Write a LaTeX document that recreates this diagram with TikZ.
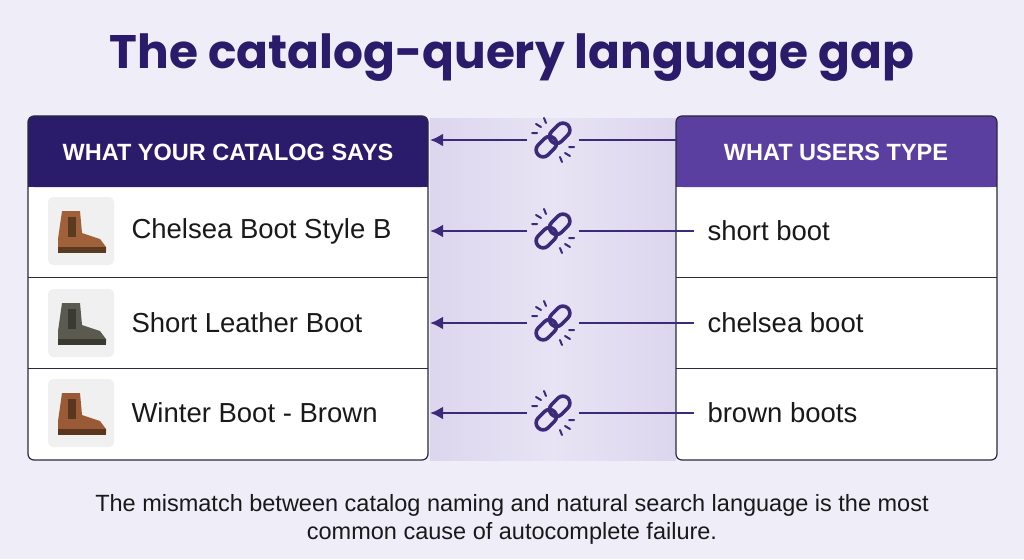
\documentclass[tikz,border=0pt]{standalone}
\usepackage{fontspec}
\setmainfont{Liberation Sans}
\newfontfamily\titlefont{Poppins}
\usetikzlibrary{arrows.meta,calc}
\definecolor{ink}{HTML}{3B2A7A}
\definecolor{bg}{HTML}{EFEDF8}
\definecolor{hdrL}{HTML}{2B1B6B}
\definecolor{hdrR}{HTML}{5B3FA0}
\definecolor{band}{HTML}{DCD6EE}
\definecolor{edge}{HTML}{2A2A3A}
\definecolor{bootA}{HTML}{A0603A}
\definecolor{bootAd}{HTML}{5A3A20}
\definecolor{bootB}{HTML}{5A5A50}
\definecolor{bootBd}{HTML}{3A3A30}
\definecolor{bootC}{HTML}{9A5A35}
\definecolor{bootCd}{HTML}{5A3520}
\begin{document}
\begin{tikzpicture}[x=1pt,y=-1pt,
  hdrtxt/.style={text=white,font=\bfseries\fontsize{23.5}{26}\selectfont},
  rowtxt/.style={anchor=west,font=\fontsize{27.5}{30}\selectfont,text=black!90},
  arr/.style={draw=ink,line width=2.6pt,-{Latex[length=13pt,width=13pt]}},
  plain/.style={draw=ink,line width=2.6pt},
  link/.pic={
    \begin{scope}[rotate=45]
    \draw[ink,line width=3.6pt,rounded corners=7pt] (-21,-7) rectangle (2,7);
    \draw[ink,line width=3.6pt,rounded corners=7pt] (-2,-7) rectangle (21,7);
    \end{scope}
    \draw[ink,line width=2pt,line cap=round] (-9,-22)--(-7,-17) (-17,-16)--(-12,-13) (-21,-7)--(-16,-7)
      (9,22)--(7,17) (17,16)--(12,13) (21,7)--(16,7);
  }]
\useasboundingbox (0,0) rectangle (1024,559);
\fill[bg] (0,0) rectangle (1024,559);
\shade[left color=band, right color=bg!60!band] (430,118) rectangle (553,460);
\shade[left color=bg!60!band, right color=band] (553,118) rectangle (676,460);
\node[font=\titlefont\bfseries\fontsize{47}{52}\selectfont,text=hdrL] (title) at (512,58) {The catalog-query language gap};
% left panel
\fill[white,rounded corners=6pt] (28,116) rectangle (428,460);
\fill[hdrL,rounded corners=6pt] (28,116) rectangle (428,187);
\fill[hdrL] (28,170) rectangle (428,187);
\draw[edge,line width=1.2pt,rounded corners=6pt] (28,116) rectangle (428,460);
\draw[edge,line width=1pt] (28,277)--(428,277) (28,368)--(428,368);
\node[hdrtxt] (lh) at (228,152) {WHAT YOUR CATALOG SAYS};
% right panel
\fill[white,rounded corners=6pt] (676,116) rectangle (997,460);
\fill[hdrR,rounded corners=6pt] (676,116) rectangle (997,187);
\fill[hdrR] (676,170) rectangle (997,187);
\draw[edge,line width=1.2pt,rounded corners=6pt] (676,116) rectangle (997,460);
\draw[edge,line width=1pt] (676,277)--(997,277) (676,368)--(997,368);
\node[hdrtxt] (rh) at (836,152) {WHAT USERS TYPE};
% icons
\foreach \y/\c/\d in {231/bootA/bootAd,323/bootB/bootBd,413/bootC/bootCd}{
  \fill[black!6,rounded corners=5pt] (48,\y-34) rectangle (114,\y+34);
  \fill[\c] (62,\y-20) -- (80,\y-20) -- (82,\y+2) -- (100,\y+8) -- (106,\y+16) -- (106,\y+20) -- (58,\y+20) -- (58,\y+8) -- cycle;
  \fill[\d] (58,\y+16) rectangle (106,\y+22);
  \fill[\d] (68,\y-14) rectangle (76,\y+6);
}
\node[rowtxt] (l1) at (128,231) {Chelsea Boot Style B};
\node[rowtxt] (l2) at (128,323) {Short Leather Boot};
\node[rowtxt] (l3) at (128,413) {Winter Boot - Brown};
\node[rowtxt] (r1) at (704,231) {short boot};
\node[rowtxt] (r2) at (704,323) {chelsea boot};
\node[rowtxt] (r3) at (704,413) {brown boots};
% connectors
\foreach \y/\s/\x in {140/0/676,231/1/694,323/2/694,413/3/694}{
  \coordinate (e\s) at (430,\y);
  \coordinate (c\s) at (553,\y);
  \coordinate (s\s) at (\x,\y);
  \draw[arr] ($(c\s)+(-26,0)$) -- (e\s);
  \draw[plain] (s\s) -- ($(c\s)+(26,0)$);
  \pic at (c\s) {link};
}
\node[font=\fontsize{23.5}{28}\selectfont,align=center,text=black!90] (foot) at (512,519) {The mismatch between catalog naming and natural search language is the most\\common cause of autocomplete failure.};
\end{tikzpicture}
\end{document}
